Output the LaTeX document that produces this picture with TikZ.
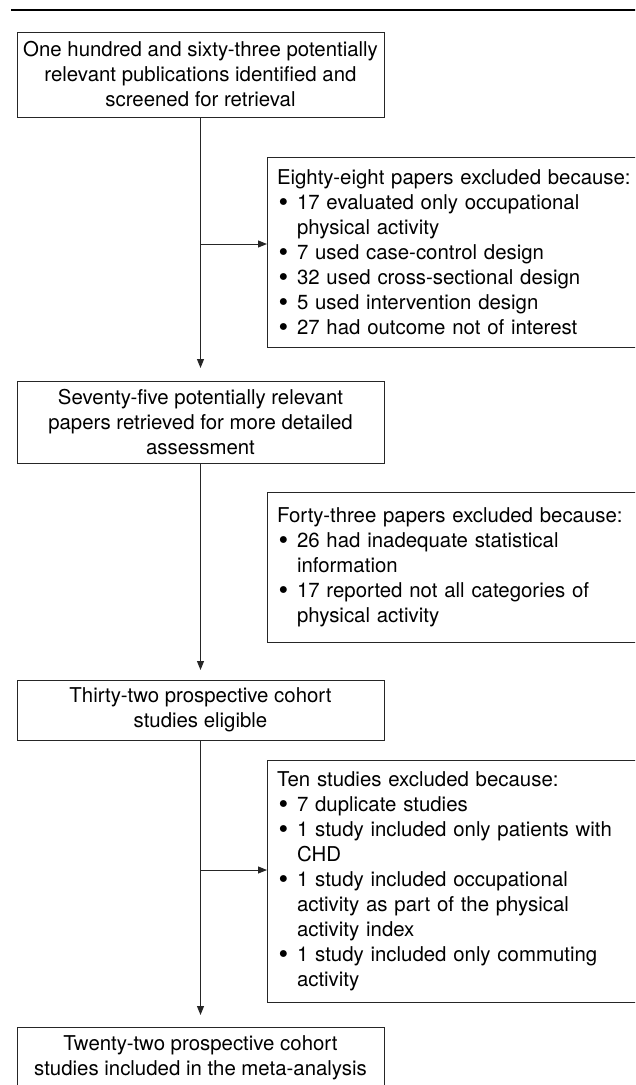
\documentclass[tikz,border=0pt]{standalone}
\usepackage{fontspec}
\usepackage{graphicx}
\setmainfont{TeX Gyre Heros}
\usetikzlibrary{arrows.meta}
\newcommand{\bitem}{\makebox[20pt][l]{\hspace{1.5pt}\smash{\raisebox{-0.12em}{\scalebox{1.35}{\textbullet}}}}}
\newcommand{\bcont}{\hspace*{20pt}}
\begin{document}
\begin{tikzpicture}[x=1pt,y=-1pt,
  every node/.style={font=\fontsize{20.4}{25}\selectfont, text=black},
  mainbox/.style={draw=black!85, line width=1pt, inner sep=0pt, outer sep=0pt,
    minimum width=367pt, align=center},
  sidebox/.style={draw=black!85, line width=1pt, inner xsep=10pt, inner ysep=0pt,
    outer sep=0pt, anchor=west, minimum width=400pt, text width=380pt, align=left},
  flow/.style={draw=black!85, line width=1pt, -{Triangle[length=9pt,width=7pt]}}]
\useasboundingbox (0,0) rectangle (635,1085);
\clip (0,0) rectangle (635,1085);
\draw[line width=1.2pt] (11,10) -- (640,10);

\node[mainbox, minimum height=85pt] (b1) at (200.5,74.5)
  {One hundred and sixty-three potentially\\relevant publications identified and\\screened for retrieval};
\node[mainbox, minimum height=82pt] (b2) at (200.5,422)
  {Seventy-five potentially relevant\\papers retrieved for more detailed\\assessment};
\node[mainbox, minimum height=60pt] (b3) at (200.5,710)
  {Thirty-two prospective cohort\\studies eligible};
\node[mainbox, minimum height=61pt] (b4) at (200.5,1057.5)
  {Twenty-two prospective cohort\\studies included in the meta-analysis};

\node[sidebox, minimum height=190pt] (r1) at (267,252)
  {Eighty-eight papers excluded because:\\
   \bitem 17 evaluated only occupational\\
   \bcont physical activity\\
   \bitem 7 used case-control design\\
   \bitem 32 used cross-sectional design\\
   \bitem 5 used intervention design\\
   \bitem 27 had outcome not of interest};
\node[sidebox, minimum height=150pt] (r2) at (267,567)
  {Forty-three papers excluded because:\\
   \bitem 26 had inadequate statistical\\
   \bcont information\\
   \bitem 17 reported not all categories of\\
   \bcont physical activity};
\node[sidebox, minimum height=242pt] (r3) at (267,881)
  {Ten studies excluded because:\\
   \bitem 7 duplicate studies\\
   \bitem 1 study included only patients with\\
   \bcont CHD\\
   \bitem 1 study included occupational\\
   \bcont activity as part of the physical\\
   \bcont activity index\\
   \bitem 1 study included only commuting\\
   \bcont activity};

\draw[flow, shorten >=13pt] (b1) -- (b2);
\draw[flow, shorten >=10pt] (b2) -- (b3);
\draw[flow, shorten >=12pt] (b3) -- (b4);

\coordinate (j1) at (200.5,244);
\coordinate (j3) at (200.5,870);
\draw[flow] (j1) -- (j1 -| r1.west);
\draw[flow] (j3) -- (j3 -| r3.west);
\end{tikzpicture}
\end{document}
